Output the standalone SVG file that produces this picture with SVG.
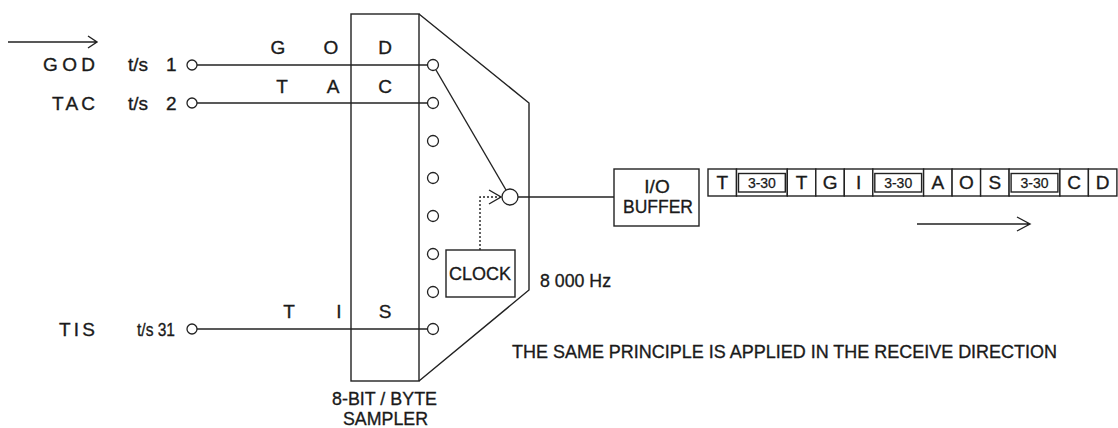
<svg xmlns="http://www.w3.org/2000/svg" width="1118" height="428" viewBox="0 0 1118 428">
<style>
.ln{stroke:#222;stroke-width:1.4;fill:none}
.bx{stroke:#222;stroke-width:1.4;fill:#fff}
.pt{stroke:#222;stroke-width:1.3;fill:#fff}
.dot{stroke:#222;stroke-width:1.4;fill:none;stroke-dasharray:2 2}
.t{font-family:"Liberation Sans",Arial,sans-serif;font-size:19px;fill:#1a1a1a;stroke:#1a1a1a;stroke-width:0.35}
.s{font-family:"Liberation Sans",Arial,sans-serif;font-size:14px;fill:#1a1a1a;stroke:#1a1a1a;stroke-width:0.25}
.c{text-anchor:middle}
</style>
<rect width="1118" height="428" fill="#fff"/>

<g id="connectors">
  <!-- input direction arrow -->
  <path class="ln" d="M8,42 H97 M88,36 L97,42 L88,48"/>
  <!-- channel lines -->
  <path class="ln" d="M197,65 H427.5"/>
  <path class="ln" d="M197,103 H427.5"/>
  <path class="ln" d="M197,329 H427.5"/>
  <!-- sampler arm -->
  <path class="ln" d="M436,70 L506,190"/>
  <!-- clock dotted trigger -->
  <path class="dot" d="M480,250 V197 H500"/>
  <path class="ln" d="M489,190 L501,197 L489,204"/>
  <!-- output line -->
  <path class="ln" d="M518,197 H614"/>
  <!-- output direction arrow -->
  <path class="ln" d="M917,224 H1030 M1017,217 L1030,224 L1017,231"/>
</g>

<g id="inputs">
  <text class="t" x="43" y="71" textLength="52" lengthAdjust="spacing">GOD</text>
  <text class="t" x="128" y="71">t/s</text>
  <text class="t" x="166" y="71">1</text>
  <circle class="pt" cx="192" cy="65" r="5"/>
  <text class="t" x="52" y="110" textLength="43" lengthAdjust="spacing">TAC</text>
  <text class="t" x="128" y="110">t/s</text>
  <text class="t" x="166" y="110">2</text>
  <circle class="pt" cx="192" cy="103" r="5"/>
  <text class="t" x="59" y="336" textLength="36" lengthAdjust="spacing">TIS</text>
  <text class="t" x="137" y="336" textLength="38" lengthAdjust="spacingAndGlyphs">t/s 31</text>
  <circle class="pt" cx="192" cy="329" r="5"/>
</g>

<g id="sampler">
  <rect class="ln" x="351" y="14" width="68" height="367"/>
  <path class="ln" d="M419,14 L529,103 V290 L419,381"/>
  <text class="t c" x="278" y="54" font-size="18">G</text>
  <text class="t c" x="331" y="54" font-size="18">O</text>
  <text class="t c" x="385" y="54" font-size="18">D</text>
  <text class="t c" x="282" y="93" font-size="18">T</text>
  <text class="t c" x="333" y="93" font-size="18">A</text>
  <text class="t c" x="385" y="93" font-size="18">C</text>
  <text class="t c" x="289" y="318" font-size="18">T</text>
  <text class="t c" x="339" y="318" font-size="18">I</text>
  <text class="t c" x="385" y="318" font-size="18">S</text>
  <circle class="pt" cx="433" cy="65" r="5.5"/>
  <circle class="pt" cx="433" cy="103" r="5.5"/>
  <circle class="pt" cx="433" cy="141" r="5.5"/>
  <circle class="pt" cx="433" cy="178" r="5.5"/>
  <circle class="pt" cx="433" cy="216" r="5.5"/>
  <circle class="pt" cx="433" cy="254" r="5.5"/>
  <circle class="pt" cx="433" cy="292" r="5.5"/>
  <circle class="pt" cx="433" cy="329" r="5.5"/>
  <circle class="pt" cx="510" cy="197" r="8"/>
  <text class="t" x="332" y="405" font-size="17" textLength="105" lengthAdjust="spacingAndGlyphs">8-BIT / BYTE</text>
  <text class="t" x="343" y="424.5" font-size="17" textLength="85" lengthAdjust="spacingAndGlyphs">SAMPLER</text>
</g>

<g id="clock">
  <rect class="bx" x="446" y="250" width="69" height="47"/>
  <text class="t" x="449" y="280" font-size="20" textLength="62" lengthAdjust="spacingAndGlyphs">CLOCK</text>
  <text class="t" x="540" y="287" font-size="20" textLength="71" lengthAdjust="spacingAndGlyphs">8 000 Hz</text>
</g>

<g id="io-buffer">
  <rect class="bx" x="614" y="169" width="85" height="57"/>
  <text class="t c" x="657" y="193">I/O</text>
  <text class="t" x="623" y="213" textLength="70" lengthAdjust="spacingAndGlyphs">BUFFER</text>
</g>

<g id="frame-sequence">
  <rect class="bx" x="708" y="169" width="28.5" height="27"/>
  <text class="t c" x="722.3" y="189">T</text>
  <rect class="bx" x="736.5" y="169" width="50.8" height="27"/>
  <rect class="ln" x="738.5" y="173.5" width="46.8" height="18.5"/>
  <text class="s c" x="761.9" y="188">3-30</text>
  <rect class="bx" x="787.3" y="169" width="28.5" height="27"/>
  <text class="t c" x="801.6" y="189">T</text>
  <rect class="bx" x="815.8" y="169" width="28.5" height="27"/>
  <text class="t c" x="830.1" y="189">G</text>
  <rect class="bx" x="844.3" y="169" width="28.5" height="27"/>
  <text class="t c" x="858.6" y="189">I</text>
  <rect class="bx" x="872.8" y="169" width="50.8" height="27"/>
  <rect class="ln" x="874.8" y="173.5" width="46.8" height="18.5"/>
  <text class="s c" x="898.2" y="188">3-30</text>
  <rect class="bx" x="923.6" y="169" width="28.5" height="27"/>
  <text class="t c" x="937.9" y="189">A</text>
  <rect class="bx" x="952.1" y="169" width="28.5" height="27"/>
  <text class="t c" x="966.4" y="189">O</text>
  <rect class="bx" x="980.6" y="169" width="28.5" height="27"/>
  <text class="t c" x="994.9" y="189">S</text>
  <rect class="bx" x="1009.1" y="169" width="50.8" height="27"/>
  <rect class="ln" x="1011.1" y="173.5" width="46.8" height="18.5"/>
  <text class="s c" x="1034.5" y="188">3-30</text>
  <rect class="bx" x="1059.9" y="169" width="28.5" height="27"/>
  <text class="t c" x="1074.2" y="189">C</text>
  <rect class="bx" x="1088.4" y="169" width="28.5" height="27"/>
  <text class="t c" x="1102.7" y="189">D</text>
</g>

<g id="note">
  <text class="t" x="512" y="358" font-size="20" textLength="545" lengthAdjust="spacingAndGlyphs">THE SAME PRINCIPLE IS APPLIED IN THE RECEIVE DIRECTION</text>
</g>
</svg>
